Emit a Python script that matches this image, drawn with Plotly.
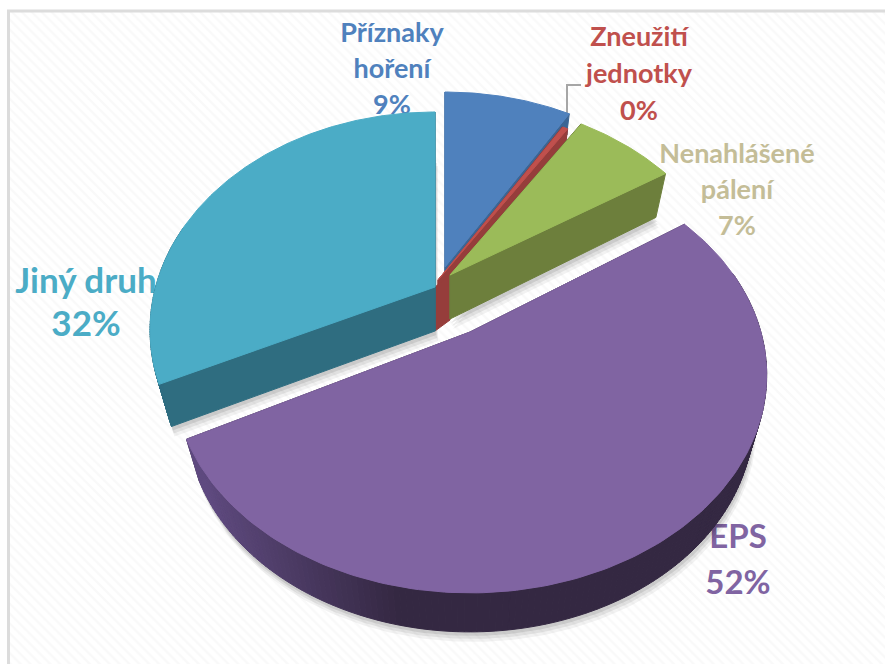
import math
import plotly.graph_objects as go

# ---- data ----
categories = ["Příznaky hoření", "Zneužití jednotky", "Nenahlášené pálení", "EPS", "Jiný druh"]
values = [8.7, 0.4, 6.9, 52.0, 32.0]
label_lines = [["Příznaky", "hoření"], ["Zneužití", "jednotky"], ["Nenahlášené", "pálení"], ["EPS"], ["Jiný druh"]]

# ---- style / layout ----
top_colors = ["#4f81bd", "#c0504d", "#9bbb59", "#8064a2", "#4bacc6"]
side_colors = ["#3c6594", "#963d3b", "#6d7f3c", "#342842", "#2f6d80"]
text_colors = ["#4f81bd", "#c0504d", "#c4bd97", "#8064a2", "#4bacc6"]
anchors = [(445, 267), (438, 280), (450, 275), (470, 332), (435, 287)]
x_scale = [0.97, 0.97, 0.98, 1.01, 0.97]
turn_deg = [0, 0, 0, -2.5, 0]
label_pos = [(392, 35, 36), (639, 39, 37), (737, 156, 36), (738, 540, 46), (86, 284, 43)]
font_sizes = [27, 27, 27, 33, 35]
A, B, K, DEPTH, SHRINK = 288, 209.5, 0.197, 44, 0.955


def proj(theta, anchor, sx=1.0):
    x, y = math.sin(theta), math.cos(theta)
    s = 1 / (1 + K * y)
    return anchor[0] + A * sx * x * s, anchor[1] - B * y * s


def low(p, anchor):
    """Point on the lower face of the disc, below a point of the top face."""
    d = DEPTH - 5 * max(0.0, (p[1] - anchor[1]) / 261)
    return anchor[0] + (p[0] - anchor[0]) * SHRINK, p[1] + d


def poly(pts, color, line=True, width=1):
    return go.Scatter(
        x=[p[0] for p in pts] + [pts[0][0]],
        y=[p[1] for p in pts] + [pts[0][1]],
        mode="lines", fill="toself", fillcolor=color,
        line=dict(color=color if line else "rgba(0,0,0,0)", width=width),
        hoverinfo="skip", showlegend=False,
    )


def lerp_hex(a, b, t):
    ca = [int(a[i:i + 2], 16) for i in (1, 3, 5)]
    cb = [int(b[i:i + 2], 16) for i in (1, 3, 5)]
    return "#" + "".join(f"{round(u + (v - u) * t):02x}" for u, v in zip(ca, cb))


fig = go.Figure()

# background panel with faint hatching (runs off the right and bottom edges)
fig.add_trace(go.Bar(
    x=[459], y=[680], base=[11], width=[901],
    marker=dict(color="#ffffff", line=dict(color="#dcdcdc", width=3),
                pattern=dict(shape="\\", fgcolor="#f3f3f3", bgcolor="#ffffff", size=7, solidity=0.35)),
    hoverinfo="skip", showlegend=False,
))

# labels sit behind the slices, as in the picture
total = sum(values)
for i, lines in enumerate(label_lines):
    cx, y0, step = label_pos[i]
    rows = lines + [f"{int(values[i] / total * 100 + 0.5)}%"]
    fig.add_trace(go.Scatter(
        x=[cx] * len(rows), y=[y0 + step * j for j in range(len(rows))],
        mode="text", text=rows, textposition="middle center",
        textfont=dict(family="Lato", size=font_sizes[i], color=text_colors[i], weight="bold"),
        hoverinfo="skip", showlegend=False,
    ))

# slice angles from values, clockwise from 12 o'clock
starts, ends = [], []
c = 0.0
for i, v in enumerate(values):
    turn = math.radians(turn_deg[i])
    starts.append(c / total * 2 * math.pi + turn)
    c += v
    ends.append(c / total * 2 * math.pi + turn)

N = 180
# soft shadows
for i in [0, 2, 4, 3]:
    a = anchors[i]
    rim = [proj(starts[i] + (ends[i] - starts[i]) * j / N, a, x_scale[i]) for j in range(N + 1)]
    pts = [low(a, a)] + [low(p, a) for p in rim]
    for off, alpha in ((10, 0.05), (7, 0.07), (4, 0.09)):
        fig.add_trace(poly([(x + off * 0.3, y + off) for x, y in pts], f"rgba(0,0,0,{alpha})", line=False))

# leader line for the very small slice
fig.add_trace(go.Scatter(x=[567, 567, 581], y=[135, 85, 85], mode="lines",
                         line=dict(color="#a6a6a6", width=2), hoverinfo="skip", showlegend=False))

for i in range(len(values)):
    a = anchors[i]
    th0, th1 = starts[i], ends[i]
    rim = [proj(th0 + (th1 - th0) * j / N, a, x_scale[i]) for j in range(N + 1)]
    # radial walls
    for th in (th0, th1):
        e = proj(th, a, x_scale[i])
        fig.add_trace(poly([a, e, low(e, a), low(a, a)], side_colors[i]))
    # outer wall, lighter towards the left on the large slice
    for j in range(N):
        p, q = rim[j], rim[j + 1]
        col = side_colors[i]
        if i == 3:
            t = min(1.0, max(0.0, (p[0] - 200) / 200))
            col = lerp_hex("#5f4a80", "#342842", t)
        if math.cos(th0 + (th1 - th0) * j / N) < 0.3:
            fig.add_trace(poly([p, q, low(q, a), low(p, a)], col))
    # top face
    fig.add_trace(poly([a] + rim, top_colors[i]))
    if i == 1:
        g, t = anchors[2], anchors[4]
        fig.add_trace(poly([g, t, (t[0], t[1] + DEPTH), (g[0], g[1] + DEPTH + 1)], side_colors[1]))

fig.update_layout(
    width=885, height=664, margin=dict(l=0, r=0, t=0, b=0),
    paper_bgcolor="#ffffff", plot_bgcolor="#ffffff", showlegend=False, hovermode=False,
    xaxis=dict(range=[0, 885], visible=False, fixedrange=True),
    yaxis=dict(range=[664, 0], visible=False, fixedrange=True),
)
fig.write_html("out.html", config=dict(displayModeBar=False),
               post_script="document.body.style.margin='0';document.body.style.overflow='hidden';")
